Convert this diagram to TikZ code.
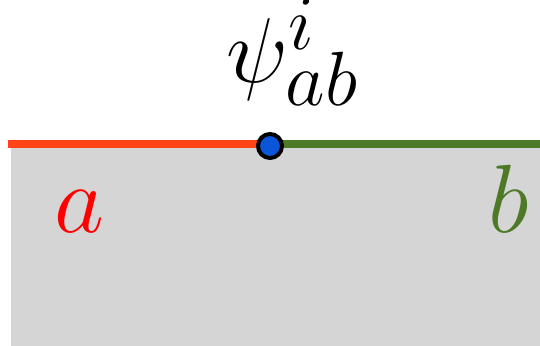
\documentclass[tikz,border=0pt]{standalone}
\usepackage{amsmath}
\usepackage{tikz}
\usetikzlibrary{positioning}
\definecolor{edgered}{HTML}{FF4517}
\definecolor{edgegreen}{HTML}{4E7A27}
\definecolor{dotblue}{HTML}{0A55D8}
\definecolor{regiongray}{HTML}{D5D5D5}

\begin{document}
\begin{tikzpicture}[
  x=0.5pt, y=-0.5pt,
  seg/.style={line width=4pt},
  vertex/.style={circle, draw=black, line width=2pt, fill=dotblue, minimum size=12pt, inner sep=0pt},
  lbl/.style={font=\Huge, scale=1.95, transform shape, inner sep=0pt}
]
  \useasboundingbox (0,0) rectangle (540,346);
  \fill[regiongray] (11,144) rectangle (540,346);

  \coordinate (west) at (8,144);
  \coordinate (east) at (540,144);
  \coordinate (mid) at (270,144);

  \draw[seg, edgered] (west) -- (mid);
  \draw[seg, edgegreen] (mid) -- (east);
  \node[vertex] (psi) at (270,146) {};

  \node[lbl, scale=0.95, anchor=base] (psilabel) at (293,83) {$\psi^{\smash{i}}_{\smash{ab}}$};
  \node[lbl, anchor=base, text=red] (alabel) at (79,233) {$a$};
  \node[lbl, anchor=base, text=edgegreen] (blabel) at (509,233) {$b$};
\end{tikzpicture}
\end{document}
